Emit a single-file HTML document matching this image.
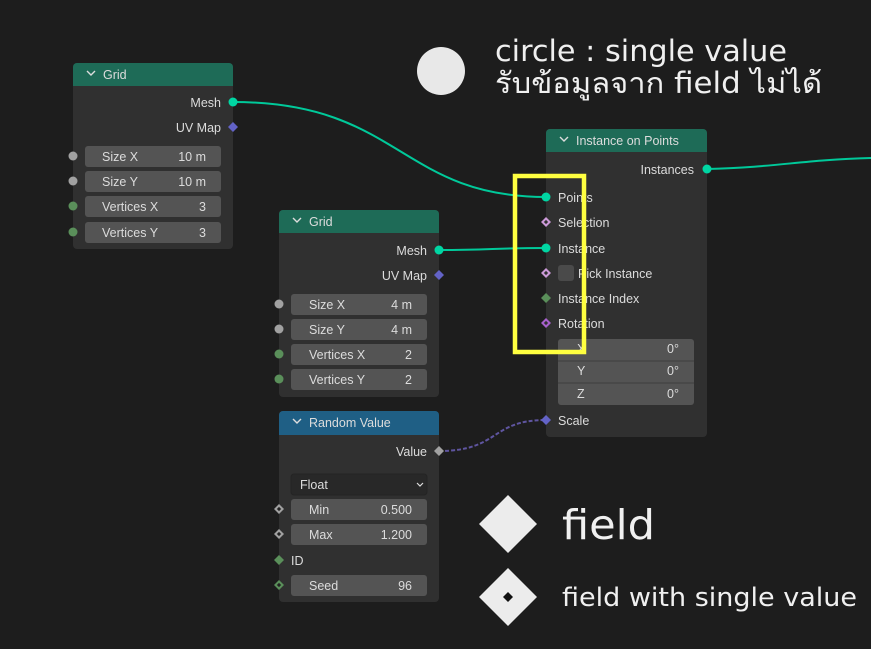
<!DOCTYPE html>
<html><head><meta charset="utf-8"><style>
html,body{margin:0;padding:0;background:#1d1d1d;}
svg{display:block;}
text{font-family:"Liberation Sans","DejaVu Sans",sans-serif;fill:#dcdcdc;font-size:12.5px;}
text.lg{font-family:"DejaVu Sans","Liberation Sans",sans-serif;fill:#f0f0f0;}
</style></head><body>
<svg width="871" height="649" viewBox="0 0 871 649" xmlns="http://www.w3.org/2000/svg">
<rect width="871" height="649" fill="#1d1d1d"/>
<g fill="none" stroke-width="2">
<path d="M233,102 C400,102 400,197 546,197" stroke="#00c99a"/>
<path d="M439,250 C490,250 495,248 546,248" stroke="#00c99a"/>
<path d="M707,169 C780,167 800,160 871,158" stroke="#00c99a"/>
<path d="M439,451 C500,451 490,420 546,420" stroke="#5f55a0" stroke-dasharray="4,2"/>
</g>

<g>
<rect x="73" y="63" width="160" height="186" rx="4" fill="#303030"/>
<path d="M77,63 h152 a4,4 0 0 1 4,4 v19 h-160 v-19 a4,4 0 0 1 4,-4z" fill="#1e6b57"/>
<path d="M87,71 l4,4 l4,-4" stroke="#ddd" stroke-width="1.4" fill="none"/>
<text x="103" y="79">Grid</text>
<text x="221" y="107" text-anchor="end">Mesh</text>
<text x="221" y="132" text-anchor="end">UV Map</text>
<rect x="85" y="146" width="136" height="21" rx="3" fill="#545454"/>
<rect x="85" y="171" width="136" height="21" rx="3" fill="#545454"/>
<rect x="85" y="196" width="136" height="21" rx="3" fill="#545454"/>
<rect x="85" y="222" width="136" height="21" rx="3" fill="#545454"/>
<text x="102" y="161">Size X</text><text x="206" y="161" text-anchor="end">10 m</text>
<text x="102" y="186">Size Y</text><text x="206" y="186" text-anchor="end">10 m</text>
<text x="102" y="211">Vertices X</text><text x="206" y="211" text-anchor="end">3</text>
<text x="102" y="237">Vertices Y</text><text x="206" y="237" text-anchor="end">3</text>
<circle cx="233" cy="102" r="4.5" fill="#00d6a3"/>
<path d="M233,122 l5,5 l-5,5 l-5,-5z" fill="#6363c7"/>
<circle cx="73" cy="156" r="4.5" fill="#a1a1a1"/>
<circle cx="73" cy="181" r="4.5" fill="#a1a1a1"/>
<circle cx="73" cy="206" r="4.5" fill="#5a8f5a"/>
<circle cx="73" cy="232" r="4.5" fill="#5a8f5a"/>
</g>

<g>
<rect x="279" y="210" width="160" height="187" rx="4" fill="#303030"/>
<path d="M283,210 h152 a4,4 0 0 1 4,4 v19 h-160 v-19 a4,4 0 0 1 4,-4z" fill="#1e6b57"/>
<path d="M293,218 l4,4 l4,-4" stroke="#ddd" stroke-width="1.4" fill="none"/>
<text x="309" y="226">Grid</text>
<text x="427" y="255" text-anchor="end">Mesh</text>
<text x="427" y="280" text-anchor="end">UV Map</text>
<rect x="291" y="294" width="136" height="21" rx="3" fill="#545454"/>
<rect x="291" y="319" width="136" height="21" rx="3" fill="#545454"/>
<rect x="291" y="344" width="136" height="21" rx="3" fill="#545454"/>
<rect x="291" y="369" width="136" height="21" rx="3" fill="#545454"/>
<text x="309" y="309">Size X</text><text x="412" y="309" text-anchor="end">4 m</text>
<text x="309" y="334">Size Y</text><text x="412" y="334" text-anchor="end">4 m</text>
<text x="309" y="359">Vertices X</text><text x="412" y="359" text-anchor="end">2</text>
<text x="309" y="384">Vertices Y</text><text x="412" y="384" text-anchor="end">2</text>
<circle cx="439" cy="250" r="4.5" fill="#00d6a3"/>
<path d="M439,270 l5,5 l-5,5 l-5,-5z" fill="#6363c7"/>
<circle cx="279" cy="304" r="4.5" fill="#a1a1a1"/>
<circle cx="279" cy="329" r="4.5" fill="#a1a1a1"/>
<circle cx="279" cy="354" r="4.5" fill="#5a8f5a"/>
<circle cx="279" cy="379" r="4.5" fill="#5a8f5a"/>
</g>

<g>
<rect x="279" y="411" width="160" height="191" rx="4" fill="#303030"/>
<path d="M283,411 h152 a4,4 0 0 1 4,4 v20 h-160 v-20 a4,4 0 0 1 4,-4z" fill="#1f5f85"/>
<path d="M293,419 l4,4 l4,-4" stroke="#ddd" stroke-width="1.4" fill="none"/>
<text x="309" y="427">Random Value</text>
<text x="427" y="456" text-anchor="end">Value</text>
<rect x="291" y="474" width="136" height="21" rx="3" fill="#282828" stroke="#242424"/>
<text x="300" y="489">Float</text>
<path d="M417,483 l3,3 l3,-3" stroke="#ddd" stroke-width="1.2" fill="none"/>
<rect x="291" y="499" width="136" height="21" rx="3" fill="#545454"/>
<rect x="291" y="524" width="136" height="21" rx="3" fill="#545454"/>
<rect x="291" y="575" width="136" height="21" rx="3" fill="#545454"/>
<text x="309" y="514">Min</text><text x="412" y="514" text-anchor="end">0.500</text>
<text x="309" y="539">Max</text><text x="412" y="539" text-anchor="end">1.200</text>
<text x="291" y="565">ID</text>
<text x="309" y="590">Seed</text><text x="412" y="590" text-anchor="end">96</text>
<path d="M439,446 l5,5 l-5,5 l-5,-5z" fill="#a1a1a1"/>
<path d="M279,504 l5,5 l-5,5 l-5,-5z" fill="#a1a1a1"/><rect x="277.5" y="507.5" width="3" height="3" transform="rotate(45 279 509)" fill="#222"/>
<path d="M279,529 l5,5 l-5,5 l-5,-5z" fill="#a1a1a1"/><rect x="277.5" y="532.5" width="3" height="3" transform="rotate(45 279 534)" fill="#222"/>
<path d="M279,555 l5,5 l-5,5 l-5,-5z" fill="#5a8f5a"/>
<path d="M279,580 l5,5 l-5,5 l-5,-5z" fill="#5a8f5a"/><rect x="277.5" y="583.5" width="3" height="3" transform="rotate(45 279 585)" fill="#222"/>
</g>

<g>
<rect x="546" y="129" width="161" height="308" rx="4" fill="#303030"/>
<path d="M550,129 h153 a4,4 0 0 1 4,4 v19 h-161 v-19 a4,4 0 0 1 4,-4z" fill="#1e6b57"/>
<path d="M560,137 l4,4 l4,-4" stroke="#ddd" stroke-width="1.4" fill="none"/>
<text x="576" y="145">Instance on Points</text>
<text x="694" y="174" text-anchor="end">Instances</text>
<text x="558" y="202">Points</text>
<text x="558" y="227">Selection</text>
<text x="558" y="253">Instance</text>
<rect x="558" y="265" width="16" height="16" rx="3" fill="#4a4a4a"/>
<text x="578" y="278">Pick Instance</text>
<text x="558" y="303">Instance Index</text>
<text x="558" y="328">Rotation</text>
<rect x="558" y="339" width="136" height="66" rx="3" fill="#545454"/>
<line x1="558" y1="361" x2="694" y2="361" stroke="#3e3e3e"/>
<line x1="558" y1="383" x2="694" y2="383" stroke="#3e3e3e"/>
<text x="577" y="353">X</text><text x="679" y="353" text-anchor="end">0°</text>
<text x="577" y="375">Y</text><text x="679" y="375" text-anchor="end">0°</text>
<text x="577" y="398">Z</text><text x="679" y="398" text-anchor="end">0°</text>
<text x="558" y="425">Scale</text>
<circle cx="707" cy="169" r="4.5" fill="#00d6a3"/>
<circle cx="546" cy="197" r="4.5" fill="#00d6a3"/>
<path d="M546,217 l5,5 l-5,5 l-5,-5z" fill="#cc9ad8"/><rect x="544.5" y="220.5" width="3" height="3" transform="rotate(45 546 222)" fill="#303030"/>
<circle cx="546" cy="248" r="4.5" fill="#00d6a3"/>
<path d="M546,268 l5,5 l-5,5 l-5,-5z" fill="#cc9ad8"/><rect x="544.5" y="271.5" width="3" height="3" transform="rotate(45 546 273)" fill="#303030"/>
<path d="M546,293 l5,5 l-5,5 l-5,-5z" fill="#5a8f5a"/>
<path d="M546,318 l5,5 l-5,5 l-5,-5z" fill="#a860cc"/><rect x="544.5" y="321.5" width="3" height="3" transform="rotate(45 546 323)" fill="#303030"/>
<path d="M546,415 l5,5 l-5,5 l-5,-5z" fill="#6363c7"/>
</g>

<rect x="515" y="176" width="69" height="176" fill="none" stroke="#ffff40" stroke-width="4.5"/>

<circle cx="441" cy="71" r="24" fill="#e8e8e8"/>
<text class="lg" x="495" y="61" style="font-size:29px" textLength="292" lengthAdjust="spacingAndGlyphs">circle : single value</text>
<text class="lg" x="495" y="93" style="font-size:29px" textLength="327" lengthAdjust="spacingAndGlyphs">รับข้อมูลจาก field ไม่ได้</text>
<path d="M508,495 l29,29 l-29,29 l-29,-29z" fill="#ececec"/>
<text class="lg" x="562" y="539" style="font-size:41px" textLength="93" lengthAdjust="spacingAndGlyphs">field</text>
<path d="M508,568 l29,29 l-29,29 l-29,-29z" fill="#ececec"/>
<path d="M508,592 l5,5 l-5,5 l-5,-5z" fill="#111"/>
<text class="lg" x="562" y="606" style="font-size:26px" textLength="295" lengthAdjust="spacingAndGlyphs">field with single value</text>
</svg>
</body></html>
